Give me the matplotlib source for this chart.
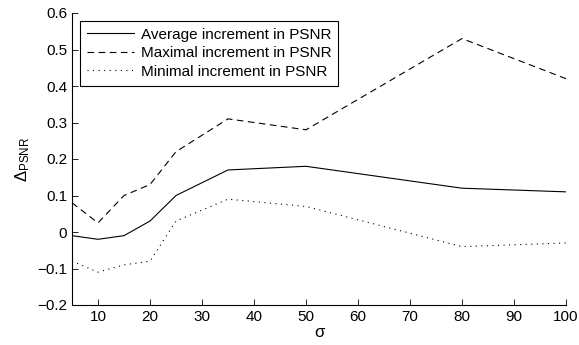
import numpy as np
import matplotlib
matplotlib.use('Agg')
import matplotlib.pyplot as plt

plt.rcParams['font.family'] = ['Liberation Sans', 'DejaVu Sans']
plt.rcParams['mathtext.fontset'] = 'custom'
plt.rcParams['mathtext.rm'] = 'Liberation Sans'
plt.rcParams['mathtext.it'] = 'Liberation Sans'

sigma = [5, 10, 15, 20, 25, 35, 50, 80, 100]
avg_inc = [-0.01, -0.02, -0.01, 0.03, 0.10, 0.17, 0.18, 0.12, 0.11]
max_inc = [0.08, 0.025, 0.10, 0.13, 0.22, 0.31, 0.28, 0.53, 0.42]
min_inc = [-0.08, -0.11, -0.09, -0.08, 0.03, 0.09, 0.07, -0.04, -0.03]

xticks = [10, 20, 30, 40, 50, 60, 70, 80, 90, 100]
yticks = [-0.2, -0.1, 0, 0.1, 0.2, 0.3, 0.4, 0.5, 0.6]
ylabels = ['\u22120.2', '\u22120.1', '0', '0.1', '0.2', '0.3', '0.4', '0.5', '0.6']

fig = plt.figure(figsize=(5.79, 3.45), dpi=100)
ax = fig.add_axes([72/579, 1 - 305/345, 494/579, 292/345])

ax.plot(sigma, avg_inc, 'k-', lw=0.8, label='Average increment in PSNR')
ax.plot(sigma, max_inc, 'k--', lw=0.8, dashes=(6, 4), label='Maximal increment in PSNR')
ax.plot(sigma, min_inc, color='k', ls=(0, (1, 4)), lw=0.8, label='Minimal increment in PSNR')

ax.set_xlim(5, 100)
ax.set_ylim(-0.2, 0.6)
ax.set_xticks(xticks)
ax.set_yticks(yticks)
ax.set_yticklabels(ylabels)
ax.tick_params(direction='in', labelsize=11, length=4, width=0.6)
ax.spines['top'].set_visible(False)
ax.spines['right'].set_visible(False)
ax.spines['left'].set_linewidth(0.8)
ax.spines['bottom'].set_linewidth(0.8)

ax.set_xlabel('σ', fontsize=12, labelpad=1)
ax.set_ylabel(r'$\Delta_{\rm PSNR}$', fontsize=12, labelpad=4)

leg = ax.legend(loc='upper left', fontsize=11, fancybox=False, edgecolor='k',
                framealpha=1, borderaxespad=0.5, handlelength=3.1,
                handletextpad=0.45, labelspacing=0.3, borderpad=0.45)
leg.get_frame().set_linewidth(0.8)

fig.savefig('out.png', dpi=100)
